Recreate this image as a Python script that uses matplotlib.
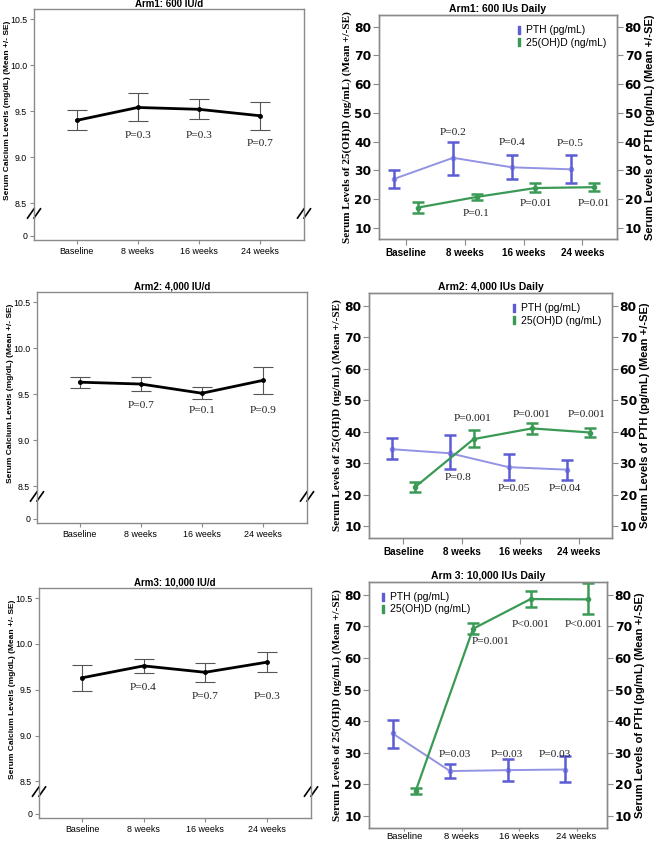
import matplotlib
matplotlib.use("Agg")
import matplotlib.pyplot as plt
from matplotlib.lines import Line2D
import numpy as np

# Data
visits = ["Baseline", "8 weeks", "16 weeks", "24 weeks"]

ca_titles = ["Arm1: 600 IU/d", "Arm2: 4,000 IU/d", "Arm3: 10,000 IU/d"]
ca_arm1 = [9.40, 9.54, 9.52, 9.45]
ca_arm1_lo = [9.29, 9.39, 9.41, 9.30]
ca_arm1_hi = [9.51, 9.70, 9.63, 9.60]
ca_arm2 = [9.63, 9.61, 9.51, 9.65]
ca_arm2_lo = [9.57, 9.53, 9.45, 9.50]
ca_arm2_hi = [9.69, 9.69, 9.58, 9.80]
ca_arm3 = [9.63, 9.76, 9.69, 9.80]
ca_arm3_lo = [9.49, 9.68, 9.58, 9.69]
ca_arm3_hi = [9.77, 9.84, 9.79, 9.91]
ca_p_arm1 = ["P=0.3", "P=0.3", "P=0.7"]
ca_p_arm2 = ["P=0.7", "P=0.1", "P=0.9"]
ca_p_arm3 = ["P=0.4", "P=0.7", "P=0.3"]
ca_ticks = [8.5, 9.0, 9.5, 10.0, 10.5]

vd_titles = ["Arm1: 600 IUs Daily", "Arm2: 4,000 IUs Daily", "Arm 3: 10,000 IUs Daily"]
pth_arm1 = [27.1, 34.4, 31.1, 30.4]
pth_arm1_lo = [24.0, 28.4, 27.1, 25.5]
pth_arm1_hi = [30.0, 39.9, 35.3, 35.3]
vd_arm1 = [17.1, 20.8, 23.9, 24.2]
vd_arm1_lo = [15.2, 19.7, 22.4, 23.0]
vd_arm1_hi = [19.0, 21.9, 25.5, 25.5]
pth_arm2 = [34.4, 33.1, 28.7, 27.9]
pth_arm2_lo = [31.4, 28.1, 24.5, 24.7]
pth_arm2_hi = [37.8, 39.0, 32.8, 31.0]
vd_arm2 = [22.4, 37.6, 41.0, 39.7]
vd_arm2_lo = [20.8, 35.0, 39.2, 38.3]
vd_arm2_hi = [24.0, 40.5, 42.8, 41.2]
pth_arm3 = [36.1, 24.2, 24.5, 24.7]
pth_arm3_lo = [31.6, 21.9, 21.0, 20.6]
pth_arm3_hi = [40.5, 26.3, 27.9, 29.0]
vd_arm3 = [17.8, 69.2, 78.6, 78.5]
vd_arm3_lo = [16.8, 67.4, 76.1, 74.0]
vd_arm3_hi = [18.9, 71.0, 81.1, 83.7]
pth_p_arm1 = ["P=0.2", "P=0.4", "P=0.5"]
vd_p_arm1 = ["P=0.1", "P=0.01", "P=0.01"]
pth_p_arm2 = ["P=0.8", "P=0.05", "P=0.04"]
vd_p_arm2 = ["P=0.001", "P=0.001", "P=0.001"]
pth_p_arm3 = ["P=0.03", "P=0.03", "P=0.03"]
vd_p_arm3 = ["P=0.001", "P<0.001", "P<0.001"]
vd_ticks = [10, 20, 30, 40, 50, 60, 70, 80]

# Layout (pixel boxes x0, y0, x1, y1) and label placement
W, H = 658, 843
ca_boxes = [(34, 9, 304, 240), (37, 292, 307, 523), (39, 588, 311, 818)]
vd_boxes = [(379, 15, 617, 239), (369, 293, 612, 538), (369, 582, 607, 828)]
ca_xlims = [(-0.70, 3.72), (-0.70, 3.72), (-0.70, 3.72)]
vd_xlims = [(-0.46, 3.59), (-0.59, 3.57), (-0.61, 3.53)]
ca_p_y = [[9.24, 9.24, 9.15], [9.38, 9.32, 9.32], [9.52, 9.43, 9.43]]
pth_p_pos = [([0.8, 1.8, 2.8], [43.2, 39.7, 39.3]),
             ([0.93, 1.89, 2.77], [25.3, 21.9, 21.9]),
             ([0.88, 1.78, 2.62], [29.6, 29.6, 29.6])]
vd_p_pos = [([1.2, 2.21, 3.2], [15.2, 18.7, 18.7]),
            ([1.19, 2.19, 3.14], [44.2, 45.3, 45.5]),
            ([1.5, 2.2, 3.12], [65.1, 70.5, 70.5])]
legend_locs = ["upper right", "upper right", "upper left"]

pth_line = "#9393e4"
pth_err = "#5c5cd4"
vd_col = "#3a9a55"
frame_col = "#8a8a8a"
sans = ["Liberation Sans", "DejaVu Sans"]
serif = ["Liberation Serif", "DejaVu Serif"]
plt.rcParams["font.family"] = sans


def rect(b):
    x0, y0, x1, y1 = b
    return [x0 / W, 1 - y1 / H, (x1 - x0) / W, (y1 - y0) / H]


def style_frame(ax):
    for s in ax.spines.values():
        s.set_color(frame_col)
        s.set_linewidth(1.0)


def bold_ticks(labels):
    for t in labels:
        t.set_fontweight("bold")
        t.set_family("DejaVu Sans")
        t.set_fontsize(8.8)


fig = plt.figure(figsize=(W / 100, H / 100), dpi=100)
x = np.arange(len(visits))

# Left column: serum calcium
ca_means = [ca_arm1, ca_arm2, ca_arm3]
ca_los = [ca_arm1_lo, ca_arm2_lo, ca_arm3_lo]
ca_his = [ca_arm1_hi, ca_arm2_hi, ca_arm3_hi]
ca_ps = [ca_p_arm1, ca_p_arm2, ca_p_arm3]
for i in range(3):
    ax = fig.add_axes(rect(ca_boxes[i]))
    m = np.array(ca_means[i])
    err = [m - np.array(ca_los[i]), np.array(ca_his[i]) - m]
    ax.errorbar(x, m, yerr=err, fmt="none", ecolor="#555555",
                elinewidth=0.8, capsize=7.5, capthick=0.8)
    ax.plot(x, m, color="black", lw=2, marker="o", ms=2.5)
    for j, lab in enumerate(ca_ps[i]):
        ax.text(x[j + 1], ca_p_y[i][j], lab, ha="center", va="center",
                fontsize=8.2, family=serif, color="#222222")
    ax.set_xlim(*ca_xlims[i])
    ax.set_ylim(8.10, 10.61)
    ax.set_yticks([8.145] + ca_ticks)
    ax.set_yticklabels(["0"] + ["%.1f" % t for t in ca_ticks])
    ax.set_xticks(x)
    ax.set_xticklabels(visits)
    ax.tick_params(labelsize=6.4, length=3, color=frame_col, pad=2)
    ax.tick_params(axis="y", labelsize=6.3)
    ax.set_title(ca_titles[i], fontsize=7, fontweight="bold", pad=1.5)
    ax.set_ylabel("Serum Calcium Levels (mg/dL) (Mean +/- SE)",
                  fontsize=6, fontweight="bold", labelpad=3)
    ax.yaxis.set_label_coords(-0.085, 0.56)
    style_frame(ax)
    # axis break marks
    for xb in (0, 1):
        for dx in (-0.012, 0.012):
            ax.plot([xb + dx - 0.012, xb + dx + 0.012], [0.095, 0.135],
                    transform=ax.transAxes, color="black", lw=1.2,
                    clip_on=False)

# Right column: 25(OH)D and PTH
pth_means = [pth_arm1, pth_arm2, pth_arm3]
pth_los = [pth_arm1_lo, pth_arm2_lo, pth_arm3_lo]
pth_his = [pth_arm1_hi, pth_arm2_hi, pth_arm3_hi]
vd_means = [vd_arm1, vd_arm2, vd_arm3]
vd_los = [vd_arm1_lo, vd_arm2_lo, vd_arm3_lo]
vd_his = [vd_arm1_hi, vd_arm2_hi, vd_arm3_hi]
pth_ps = [pth_p_arm1, pth_p_arm2, pth_p_arm3]
vd_ps = [vd_p_arm1, vd_p_arm2, vd_p_arm3]
for i in range(3):
    ax = fig.add_axes(rect(vd_boxes[i]))
    xp = x - 0.2
    xv = x + 0.2
    m = np.array(pth_means[i])
    ax.plot(xp, m, color=pth_line, lw=1.4, marker="o", ms=3)
    ax.errorbar(xp, m, yerr=[m - np.array(pth_los[i]), np.array(pth_his[i]) - m],
                fmt="none", ecolor=pth_err, elinewidth=1.8, capsize=4.5,
                capthick=1.8)
    v = np.array(vd_means[i])
    ax.plot(xv, v, color=vd_col, lw=1.6, marker="o", ms=3)
    ax.errorbar(xv, v, yerr=[v - np.array(vd_los[i]), np.array(vd_his[i]) - v],
                fmt="none", ecolor=vd_col, elinewidth=1.8, capsize=4.5,
                capthick=1.8)
    for j, lab in enumerate(pth_ps[i]):
        ax.text(pth_p_pos[i][0][j], pth_p_pos[i][1][j], lab, ha="center",
                va="center", fontsize=8.2, family=serif, color="#222222")
    for j, lab in enumerate(vd_ps[i]):
        ax.text(vd_p_pos[i][0][j], vd_p_pos[i][1][j], lab, ha="center",
                va="center", fontsize=8.2, family=serif, color="#222222")
    ax.set_xlim(*vd_xlims[i])
    ax.set_ylim(6.2, 84.0)
    ax.set_yticks(vd_ticks)
    ax.set_xticks(x)
    xw = "normal" if i == 2 else "bold"
    ax.set_xticklabels(visits, fontweight=xw, fontsize=7.1 if i < 2 else 6.8)
    ax.tick_params(axis="y", length=4, color=frame_col, pad=1.5)
    ax.tick_params(axis="x", length=4 if i < 2 else 2.5, color=frame_col,
                   pad=0.3 if i == 2 else 2.5)
    bold_ticks(ax.get_yticklabels())
    ax.set_title(vd_titles[i], fontsize=7.5, fontweight="bold", pad=2.5)
    ax.set_ylabel("Serum Levels of 25(OH)D (ng/mL) (Mean +/-SE)",
                  fontsize=8, fontweight="bold", family=serif, labelpad=1.5)
    style_frame(ax)
    ax2 = ax.twinx()
    ax2.set_ylim(ax.get_ylim())
    ax2.set_yticks(vd_ticks)
    ax2.tick_params(axis="y", length=4, color=frame_col, pad=1.5)
    bold_ticks(ax2.get_yticklabels())
    ax2.set_ylabel("Serum Levels of PTH (pg/mL) (Mean +/-SE)",
                   fontsize=8, fontweight="bold", labelpad=2.5)
    style_frame(ax2)
    handles = [Line2D([], [], ls="none", marker=r"$\mathbf{I}$", ms=6,
                      color=pth_err),
               Line2D([], [], ls="none", marker=r"$\mathbf{I}$", ms=6,
                      color=vd_col)]
    ax.legend(handles, ["PTH (pg/mL)", "25(OH)D (ng/mL)"], loc=legend_locs[i],
              frameon=False, fontsize=7.5, handlelength=0.6, handletextpad=0.4,
              labelspacing=0.2, borderaxespad=0.6)

fig.savefig("out.png", dpi=100)
